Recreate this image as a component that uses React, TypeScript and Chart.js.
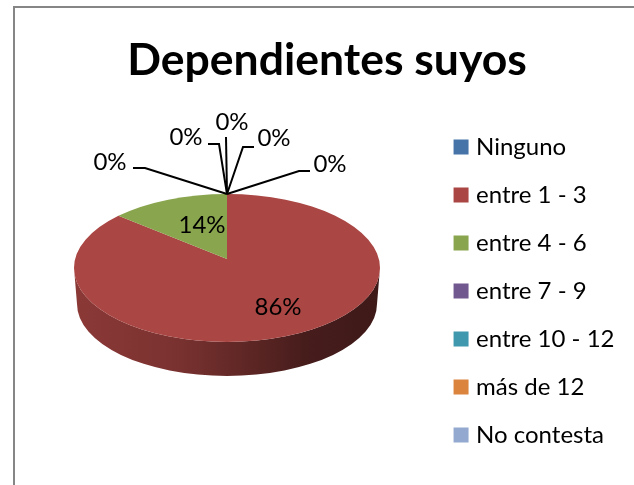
import React, { useEffect, useRef } from "react";
import { Chart, registerables } from "chart.js";

Chart.register(...registerables);

const categories = ["Ninguno", "entre 1 - 3", "entre 4 - 6", "entre 7 - 9", "entre 10 - 12", "más de 12", "No contesta"];
const values = [0, 86, 14, 0, 0, 0, 0];
const colors = ["#4674A9", "#AA4643", "#89A54E", "#71588F", "#4098AF", "#DB843D", "#93A9CF"];
const titleText = "Dependientes suyos";

const FONT = "Lato, Carlito, sans-serif";
const LABEL_SIZE = 24;

// 3D projection of the pie drawn on the canvas
const PIE = { cx: 227, cy: 268, rx: 153, ry: 74, bottomCy: 304, bottomRx: 150, bottomRy: 72, persp: 0.122 };
const WALL_STOPS: [number, number][] = [[0, 0.82], [0.33, 0.72], [0.5, 0.6], [0.75, 0.42], [1, 0.36]];

// label centre and leader line points per category index
const LABEL_LAYOUT: Record<number, { x: number; y: number; line?: [number, number][] }> = {
  1: { x: 278, y: 307 },
  2: { x: 202, y: 225 },
  3: { x: 110, y: 162, line: [[145, 168], [133, 168]] },
  4: { x: 186, y: 137, line: [[219, 144], [208, 144]] },
  5: { x: 232, y: 122, line: [[226, 137]] },
  6: { x: 274, y: 138, line: [[243, 147], [254, 147]] },
  0: { x: 330, y: 164, line: [[299, 171], [310, 171]] },
};

function shade(hex: string, m: number) {
  const n = parseInt(hex.slice(1), 16);
  const f = (v: number) => Math.round(v * m);
  return `rgb(${f((n >> 16) & 255)},${f((n >> 8) & 255)},${f(n & 255)})`;
}

function project(a: number) {
  const c = PIE.persp;
  const x = Math.cos(a);
  const y = -Math.sin(a);
  const d = 1 + c * y;
  return Math.atan2(-(y + c) / d, (x * Math.sqrt(1 - c * c)) / d);
}

const framePlugin = {
  id: "frame",
  beforeDraw(chart: any) {
    const { ctx } = chart;
    ctx.save();
    ctx.fillStyle = "#fff";
    ctx.fillRect(0, 0, 634, 485);
    ctx.strokeStyle = "#868686";
    ctx.lineWidth = 2;
    ctx.strokeRect(14, 7, 700, 600);
    ctx.restore();
  },
};

const pie3dPlugin = {
  id: "pie3d",
  beforeDatasetsDraw(chart: any) {
    const { ctx } = chart;
    const arcs = chart.getDatasetMeta(0).data;
    const slices = arcs
      .map((el: any, i: number) => {
        const s = project(el.startAngle);
        let e = project(el.endAngle);
        while (e <= s) e += Math.PI * 2;
        return { s, e, i, empty: el.endAngle - el.startAngle < 1e-6 };
      })
      .filter((sl: any) => !sl.empty);

    ctx.save();
    for (const { s, e, i } of slices) {
      const grad = ctx.createLinearGradient(PIE.cx - PIE.rx, 0, PIE.cx + PIE.rx, 0);
      for (const [p, m] of WALL_STOPS) grad.addColorStop(p, shade(colors[i], m));
      for (const base of [-Math.PI * 2, 0, Math.PI * 2]) {
        const l = Math.max(s, base);
        const h = Math.min(e, base + Math.PI);
        if (h <= l) continue;
        ctx.beginPath();
        ctx.ellipse(PIE.cx, PIE.cy, PIE.rx, PIE.ry, 0, l, h);
        ctx.ellipse(PIE.cx, PIE.bottomCy, PIE.bottomRx, PIE.bottomRy, 0, h, l, true);
        ctx.closePath();
        ctx.fillStyle = grad;
        ctx.fill();
      }
    }
    const apexY = PIE.cy - PIE.persp * PIE.ry;
    for (const { s, e, i } of slices) {
      ctx.beginPath();
      ctx.moveTo(PIE.cx, apexY);
      ctx.ellipse(PIE.cx, PIE.cy, PIE.rx, PIE.ry, 0, s, e);
      ctx.closePath();
      ctx.fillStyle = colors[i];
      ctx.fill();
    }

    // leader lines and percentage labels
    const total = values.reduce((a, b) => a + b, 0);
    ctx.strokeStyle = "#000";
    ctx.fillStyle = "#000";
    ctx.lineWidth = 2;
    ctx.font = `${LABEL_SIZE}px ${FONT}`;
    ctx.textAlign = "center";
    ctx.textBaseline = "middle";
    values.forEach((v, i) => {
      const lay = LABEL_LAYOUT[i];
      if (lay.line) {
        ctx.beginPath();
        ctx.moveTo(PIE.cx, PIE.cy - PIE.ry);
        lay.line.forEach(([x, y]) => ctx.lineTo(x, y));
        ctx.stroke();
      }
      ctx.fillText(`${Math.round((v / total) * 100)}%`, lay.x, lay.y);
    });
    ctx.restore();
    return false;
  },
};

export default function App() {
  const ref = useRef<HTMLCanvasElement>(null);
  useEffect(() => {
    const chart = new Chart(ref.current!, {
      type: "pie",
      data: {
        labels: categories,
        datasets: [{ data: values, backgroundColor: colors, borderWidth: 0 }],
      },
      options: {
        animation: false,
        responsive: false,
        layout: { padding: { left: 29.5, right: 9.5, top: 8, bottom: 14 } },
        plugins: {
          tooltip: { enabled: false },
          title: {
            display: true,
            text: titleText,
            color: "#000",
            font: { family: FONT, size: 44.5, weight: "bold" },
            padding: { top: 26, bottom: 50 },
          },
          legend: {
            display: true,
            position: "right",
            align: "end",
            labels: {
              boxWidth: 6,
              boxHeight: 6,
              padding: 24,
              color: "#000",
              font: { family: FONT, size: LABEL_SIZE },
              generateLabels: () =>
                categories.map((text, i) => ({
                  text,
                  fillStyle: colors[i],
                  strokeStyle: colors[i],
                  lineWidth: 9,
                  hidden: false,
                  index: i,
                })),
            },
          },
        },
      },
      plugins: [framePlugin, pie3dPlugin],
    } as any);
    return () => chart.destroy();
  }, []);
  return (
    <div style={{ position: "absolute", left: 0, top: 0 }}>
      <canvas ref={ref} width={634} height={485} style={{ display: "block", width: 634, height: 485 }} />
    </div>
  );
}
